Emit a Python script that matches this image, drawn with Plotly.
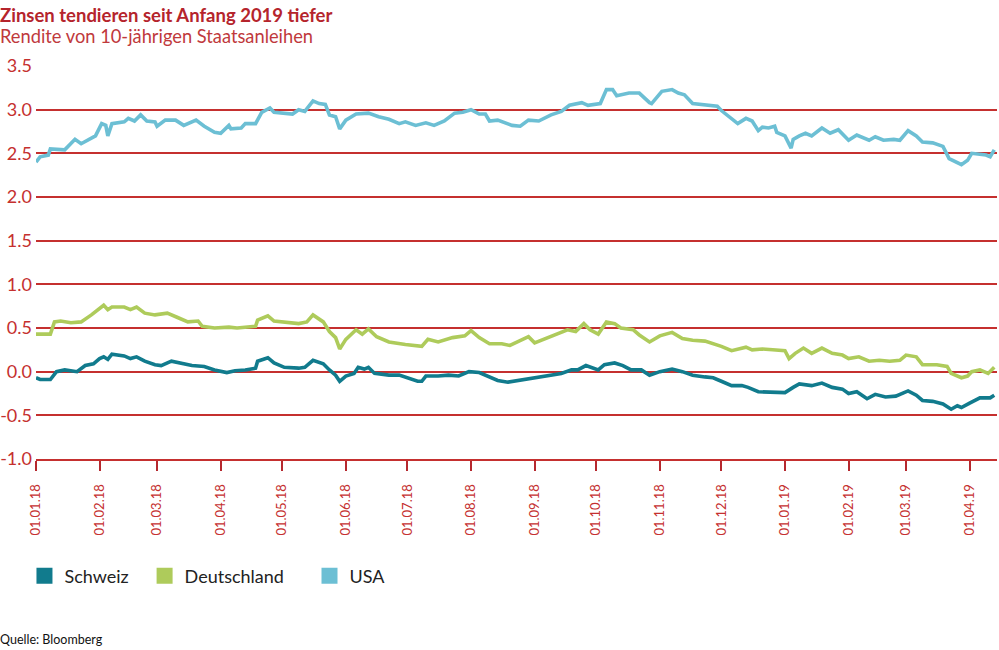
import pandas as pd
import plotly.graph_objects as go

# ---- data (days since 01.01.2018, yield in %) ----
base_date = "2018-01-01"

usa_day = [0, 2, 6, 7, 14, 19, 22, 29, 32, 34, 35, 37, 43, 45, 48, 51, 54, 58, 59, 63, 68, 72, 78, 82, 87, 90,
           94, 95, 100, 102, 107, 110, 114, 116, 125, 128, 131, 135, 138, 141, 143, 146, 148, 151, 156, 162, 167,
           172, 177, 180, 185, 190, 194, 199, 204, 208, 212, 216, 219, 221, 225, 232, 236, 240, 245, 251, 256, 260,
           266, 269, 275, 278, 281, 283, 289, 294, 299, 300, 305, 310, 313, 316, 320, 326, 330, 332, 334, 338, 342,
           346, 349, 352, 354, 357, 360, 361, 365, 368, 369, 372, 375, 378, 383, 387, 391, 396, 400, 406, 409, 413,
           418, 421, 425, 429, 432, 437, 442, 445, 451, 454, 456, 460, 463, 465, 467]
usa_val = [2.40, 2.46, 2.48, 2.55, 2.54, 2.66, 2.61, 2.70, 2.84, 2.82, 2.70, 2.84, 2.86, 2.90, 2.87, 2.94, 2.87,
           2.86, 2.81, 2.88, 2.88, 2.82, 2.88, 2.81, 2.74, 2.73, 2.82, 2.78, 2.79, 2.84, 2.84, 2.97, 3.02, 2.97,
           2.95, 3.00, 2.98, 3.10, 3.07, 3.06, 2.94, 2.92, 2.78, 2.88, 2.95, 2.96, 2.92, 2.89, 2.84, 2.86, 2.82,
           2.85, 2.82, 2.87, 2.96, 2.97, 3.00, 2.95, 2.95, 2.87, 2.88, 2.82, 2.81, 2.88, 2.87, 2.94, 2.98, 3.05,
           3.08, 3.05, 3.07, 3.23, 3.23, 3.16, 3.19, 3.19, 3.08, 3.07, 3.21, 3.23, 3.19, 3.17, 3.07, 3.06, 3.05,
           3.04, 2.99, 2.92, 2.84, 2.90, 2.87, 2.76, 2.80, 2.79, 2.81, 2.74, 2.70, 2.56, 2.66, 2.70, 2.73, 2.70,
           2.79, 2.73, 2.77, 2.65, 2.71, 2.65, 2.69, 2.65, 2.66, 2.65, 2.76, 2.70, 2.63, 2.62, 2.58, 2.44, 2.37,
           2.42, 2.50, 2.49, 2.48, 2.46, 2.54]

de_day = [0, 7, 9, 12, 17, 22, 27, 30, 33, 35, 37, 43, 46, 49, 53, 58, 64, 69, 74, 79, 81, 87, 94, 98, 107, 108,
          113, 116, 121, 128, 132, 135, 140, 143, 146, 148, 151, 156, 159, 162, 166, 172, 180, 188, 191, 196, 203,
          209, 212, 216, 221, 227, 231, 235, 240, 243, 248, 253, 259, 263, 267, 270, 274, 278, 282, 285, 291, 294,
          299, 304, 310, 315, 320, 326, 329, 334, 339, 346, 349, 354, 359, 365, 367, 370, 374, 378, 383, 388, 393,
          396, 401, 406, 411, 416, 421, 424, 429, 432, 439, 444, 446, 451, 454, 456, 460, 464, 467]
de_val = [0.43, 0.43, 0.57, 0.58, 0.56, 0.57, 0.65, 0.71, 0.76, 0.71, 0.74, 0.74, 0.71, 0.74, 0.67, 0.65, 0.67,
          0.62, 0.57, 0.58, 0.52, 0.50, 0.51, 0.50, 0.52, 0.59, 0.64, 0.58, 0.57, 0.55, 0.57, 0.65, 0.57, 0.46,
          0.39, 0.26, 0.37, 0.48, 0.43, 0.49, 0.40, 0.34, 0.31, 0.29, 0.37, 0.34, 0.39, 0.41, 0.47, 0.39, 0.32,
          0.32, 0.30, 0.34, 0.40, 0.33, 0.38, 0.42, 0.48, 0.46, 0.55, 0.48, 0.43, 0.57, 0.55, 0.50, 0.48, 0.42,
          0.34, 0.41, 0.45, 0.38, 0.36, 0.35, 0.33, 0.29, 0.24, 0.28, 0.25, 0.26, 0.25, 0.24, 0.15, 0.21, 0.27,
          0.21, 0.27, 0.21, 0.19, 0.15, 0.17, 0.12, 0.13, 0.12, 0.13, 0.19, 0.17, 0.08, 0.08, 0.06, -0.02, -0.07,
          -0.05, 0.00, 0.02, -0.02, 0.05]

ch_day = [0, 2, 7, 10, 14, 20, 24, 28, 31, 33, 35, 37, 43, 46, 49, 53, 58, 61, 66, 71, 76, 82, 87, 93, 97, 102,
          107, 108, 113, 116, 121, 128, 131, 135, 140, 143, 146, 148, 151, 155, 157, 160, 162, 165, 172, 177, 181,
          186, 188, 190, 196, 201, 206, 211, 216, 221, 225, 230, 235, 240, 245, 251, 256, 261, 264, 268, 271, 274,
          277, 282, 286, 290, 295, 299, 304, 310, 315, 320, 326, 330, 334, 339, 344, 347, 352, 359, 365, 369, 372,
          378, 383, 388, 393, 396, 400, 405, 409, 414, 419, 425, 429, 432, 437, 442, 446, 449, 451, 455, 460, 465,
          467]
ch_val = [-0.07, -0.09, -0.09, 0.00, 0.02, 0.00, 0.07, 0.09, 0.15, 0.17, 0.14, 0.20, 0.18, 0.15, 0.17, 0.12, 0.08,
          0.07, 0.12, 0.09, 0.07, 0.06, 0.02, -0.01, 0.01, 0.02, 0.04, 0.12, 0.16, 0.10, 0.05, 0.04, 0.05, 0.13,
          0.09, 0.02, -0.04, -0.11, -0.05, -0.02, 0.05, 0.03, 0.05, -0.02, -0.04, -0.04, -0.07, -0.11, -0.11, -0.05,
          -0.05, -0.04, -0.05, 0.00, -0.01, -0.06, -0.10, -0.12, -0.10, -0.08, -0.06, -0.04, -0.02, 0.02, 0.02,
          0.07, 0.05, 0.02, 0.08, 0.10, 0.07, 0.02, 0.02, -0.04, 0.00, 0.03, 0.00, -0.04, -0.06, -0.07, -0.11,
          -0.16, -0.16, -0.18, -0.23, -0.24, -0.24, -0.18, -0.14, -0.16, -0.13, -0.18, -0.20, -0.25, -0.23, -0.31,
          -0.26, -0.29, -0.28, -0.22, -0.27, -0.33, -0.34, -0.37, -0.43, -0.39, -0.41, -0.36, -0.30, -0.30, -0.27]

series_names = ["Schweiz", "Deutschland", "USA"]
tick_dates = pd.date_range("2018-01-01", "2019-04-01", freq="MS")
tick_labels = ["01.01.18", "01.02.18", "01.03.18", "01.04.18", "01.05.18", "01.06.18", "01.07.18", "01.08.18",
               "01.09.18", "01.10.18", "01.11.18", "01.12.18", "01.01.19", "01.02.19", "01.03.19", "01.04.19"]
y_ticks = [-1.0, -0.5, 0.0, 0.5, 1.0, 1.5, 2.0, 2.5, 3.0, 3.5]
y_tick_labels = ["-1.0", "-0.5", "0.0", "0.5", "1.0", "1.5", "2.0", "2.5", "3.0", "3.5"]

# ---- styles ----
colors = {"Schweiz": "#117b8d", "Deutschland": "#aecb5b", "USA": "#6cbfd4"}
RED = "#c5302f"
FONT = "Lato"
legend_x = {"Schweiz": -0.012, "Deutschland": 0.113, "USA": 0.2846}
legend_ids = {"Schweiz": "legend", "Deutschland": "legend2", "USA": "legend3"}

PLOT_W, PLOT_H, L, T = 961, 393, 36, 66


def to_dates(days):
    return pd.Timestamp(base_date) + pd.to_timedelta(days, unit="D")


data = {
    "Schweiz": (ch_day, ch_val),
    "Deutschland": (de_day, de_val),
    "USA": (usa_day, usa_val),
}

fig = go.Figure()
for name in ["USA", "Deutschland", "Schweiz"]:
    d, v = data[name]
    fig.add_trace(go.Scatter(x=to_dates(d), y=v, mode="lines", name=name,
                             line=dict(color=colors[name], width=3.6), showlegend=False,
                             hoverinfo="x+y"))

# legend entries as squares (one legend per entry for exact placement)
for name in series_names:
    fig.add_trace(go.Scatter(x=[None], y=[None], mode="markers", name=name,
                             marker=dict(symbol="square", size=17, color=colors[name]),
                             showlegend=True, legend=legend_ids[name]))

leg_common = dict(orientation="h", xanchor="left", y=-0.298, yanchor="middle",
                  font=dict(family=FONT, size=18, color="#222222"), itemsizing="trace",
                  bgcolor="rgba(0,0,0,0)")

fig.update_layout(
    width=999, height=650,
    margin=dict(l=L, r=2, t=T, b=191, autoexpand=False),
    paper_bgcolor="white", plot_bgcolor="white",
    font=dict(family=FONT, color=RED),
    showlegend=True,
    legend=dict(x=legend_x["Schweiz"], **leg_common),
    legend2=dict(x=legend_x["Deutschland"], **leg_common),
    legend3=dict(x=legend_x["USA"], **leg_common),
)

fig.update_xaxes(
    type="date", automargin=False,
    range=[pd.Timestamp("2018-01-01"), pd.Timestamp("2019-04-14 08:00")],
    tickvals=tick_dates, ticktext=tick_labels, tickangle=-90,
    tickfont=dict(family=FONT, size=13, color=RED),
    ticks="outside", ticklen=10, tickwidth=2, tickcolor="#b5282e",
    ticklabelstandoff=8,
    showline=True, linecolor=RED, linewidth=2,
    showgrid=False, zeroline=False,
)
fig.update_yaxes(
    automargin=False,
    range=[-1.0, 3.5], tickvals=y_ticks, ticktext=y_tick_labels,
    tickfont=dict(family=FONT, size=18, color=RED),
    ticklabelstandoff=3,
    showgrid=True, gridcolor=RED, gridwidth=2,
    zeroline=False, showline=False, ticks="",
)


def px_y(py):
    return (T + PLOT_H - py) / PLOT_H


fig.add_annotation(text="<b>Zinsen tendieren seit Anfang 2019 tiefer</b>", xref="paper", yref="paper",
                   x=-L / PLOT_W, y=px_y(2), xanchor="left", yanchor="top", xshift=-2, showarrow=False,
                   font=dict(family=FONT, size=18.5, color="#b5242c"))
fig.add_annotation(text="Rendite von 10-jährigen Staatsanleihen", xref="paper", yref="paper",
                   x=-L / PLOT_W, y=px_y(23), xanchor="left", yanchor="top", xshift=-2, showarrow=False,
                   font=dict(family=FONT, size=18.3, color="#c0393c"))
fig.add_annotation(text="Quelle: Bloomberg", xref="paper", yref="paper",
                   x=-L / PLOT_W, y=px_y(650), xanchor="left", yanchor="bottom", xshift=-2, yshift=1,
                   showarrow=False, font=dict(family=FONT, size=12.5, color="#111111"))

fig.write_html("out.html")
